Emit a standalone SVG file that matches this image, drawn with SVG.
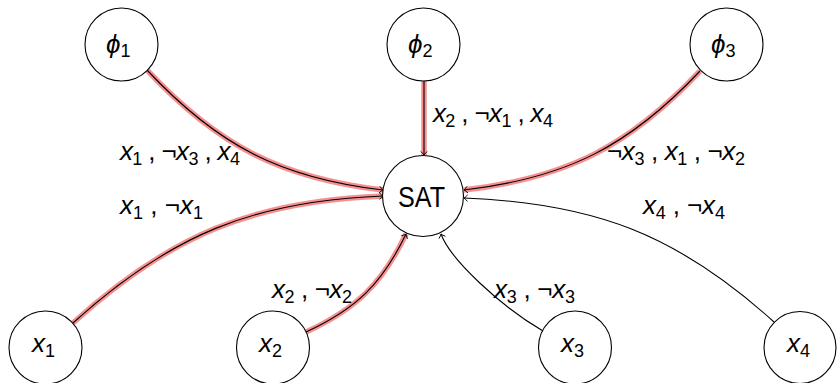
<svg xmlns="http://www.w3.org/2000/svg" width="837" height="383" viewBox="0 0 837 383">
<style>
.node circle{fill:#fff;stroke:#000;stroke-width:1.1}
text{font-family:"Liberation Sans","DejaVu Sans",sans-serif;font-size:26px;fill:#000}
.v{font-style:italic}
.s{font-size:18px}
.halo{fill:none;stroke:#f47c7c;stroke-width:5.5;stroke-opacity:0.85}
.edge{fill:none;stroke:#000;stroke-width:1.1;marker-end:url(#arr)}
</style>
<defs>
<marker id="arr" markerUnits="userSpaceOnUse" markerWidth="10" markerHeight="10" refX="0" refY="0" viewBox="-5 -5 10 10" orient="auto">
<path d="M-3.6,-3.4 Q-1.2,-0.6 0,0 Q-1.2,0.6 -3.6,3.4" fill="none" stroke="#000" stroke-width="0.9"/>
</marker>
</defs>
<g id="connectors">
<path class="halo" d="M147,70 C218,146 281,178 383,190"/>
<path class="edge" d="M147,70 C218,146 281,178 383,190"/>
<path class="halo" d="M424,81 L424,155"/>
<path class="edge" d="M424,81 L424,155"/>
<path class="halo" d="M700,71 C629.5,146 567,178 464,190"/>
<path class="edge" d="M700,71 C629.5,146 567,178 464,190"/>
<path class="halo" d="M73,323 C170,235 253,201 383,196"/>
<path class="edge" d="M73,323 C170,235 253,201 383,196"/>
<path class="halo" d="M306,332 C356,309 382,284 406,234"/>
<path class="edge" d="M306,332 C356,309 382,284 406,234"/>
<path class="edge" d="M543,331 C500,306 450,259 441,234"/>
<path class="edge" d="M774,322 C678,235 595,203 464,198"/>
</g>
<g id="labels">
<text x="120" y="160" textLength="120" lengthAdjust="spacing"><tspan class="v">x</tspan><tspan class="s" dy="5">1</tspan><tspan dy="-5"> , ¬</tspan><tspan class="v">x</tspan><tspan class="s" dy="5">3</tspan><tspan dy="-5"> , </tspan><tspan class="v">x</tspan><tspan class="s" dy="5">4</tspan></text>
<text x="433" y="122" textLength="120" lengthAdjust="spacing"><tspan class="v">x</tspan><tspan class="s" dy="5">2</tspan><tspan dy="-5"> , ¬</tspan><tspan class="v">x</tspan><tspan class="s" dy="5">1</tspan><tspan dy="-5"> , </tspan><tspan class="v">x</tspan><tspan class="s" dy="5">4</tspan></text>
<text x="607" y="160" textLength="138" lengthAdjust="spacing"><tspan>¬</tspan><tspan class="v">x</tspan><tspan class="s" dy="5">3</tspan><tspan dy="-5"> , </tspan><tspan class="v">x</tspan><tspan class="s" dy="5">1</tspan><tspan dy="-5"> , ¬</tspan><tspan class="v">x</tspan><tspan class="s" dy="5">2</tspan></text>
<text x="643" y="214" textLength="82" lengthAdjust="spacing"><tspan class="v">x</tspan><tspan class="s" dy="5">4</tspan><tspan dy="-5"> , ¬</tspan><tspan class="v">x</tspan><tspan class="s" dy="5">4</tspan></text>
<text x="120" y="214" textLength="83" lengthAdjust="spacing"><tspan class="v">x</tspan><tspan class="s" dy="5">1</tspan><tspan dy="-5"> , ¬</tspan><tspan class="v">x</tspan><tspan class="s" dy="5">1</tspan></text>
<text x="272" y="298" textLength="80" lengthAdjust="spacing"><tspan class="v">x</tspan><tspan class="s" dy="5">2</tspan><tspan dy="-5"> , ¬</tspan><tspan class="v">x</tspan><tspan class="s" dy="5">2</tspan></text>
<text x="494" y="298" textLength="81" lengthAdjust="spacing"><tspan class="v">x</tspan><tspan class="s" dy="5">3</tspan><tspan dy="-5"> , ¬</tspan><tspan class="v">x</tspan><tspan class="s" dy="5">3</tspan></text>
</g>
<g id="phi1" class="node"><circle cx="121.5" cy="44.5" r="36.5"/><text x="106" y="53"><tspan class="v">ϕ</tspan><tspan class="s" dy="4">1</tspan></text></g>
<g id="phi2" class="node"><circle cx="423.5" cy="44.5" r="36.5"/><text x="408" y="53"><tspan class="v">ϕ</tspan><tspan class="s" dy="4">2</tspan></text></g>
<g id="phi3" class="node"><circle cx="726.5" cy="44.5" r="36.5"/><text x="711" y="53"><tspan class="v">ϕ</tspan><tspan class="s" dy="4">3</tspan></text></g>
<g id="sat" class="node"><circle cx="423" cy="196" r="40.5"/><text x="398" y="207" style="font-size:29px" textLength="47" lengthAdjust="spacingAndGlyphs">SAT</text></g>
<g id="x1" class="node"><circle cx="45.5" cy="347.5" r="36.5"/><text x="32" y="352"><tspan class="v">x</tspan><tspan class="s" dy="5">1</tspan></text></g>
<g id="x2" class="node"><circle cx="273" cy="347.5" r="36.5"/><text x="259" y="352"><tspan class="v">x</tspan><tspan class="s" dy="5">2</tspan></text></g>
<g id="x3" class="node"><circle cx="575" cy="347.5" r="36.5"/><text x="561" y="352"><tspan class="v">x</tspan><tspan class="s" dy="5">3</tspan></text></g>
<g id="x4" class="node"><circle cx="800" cy="347.5" r="36"/><text x="787" y="352"><tspan class="v">x</tspan><tspan class="s" dy="5">4</tspan></text></g>
</svg>
